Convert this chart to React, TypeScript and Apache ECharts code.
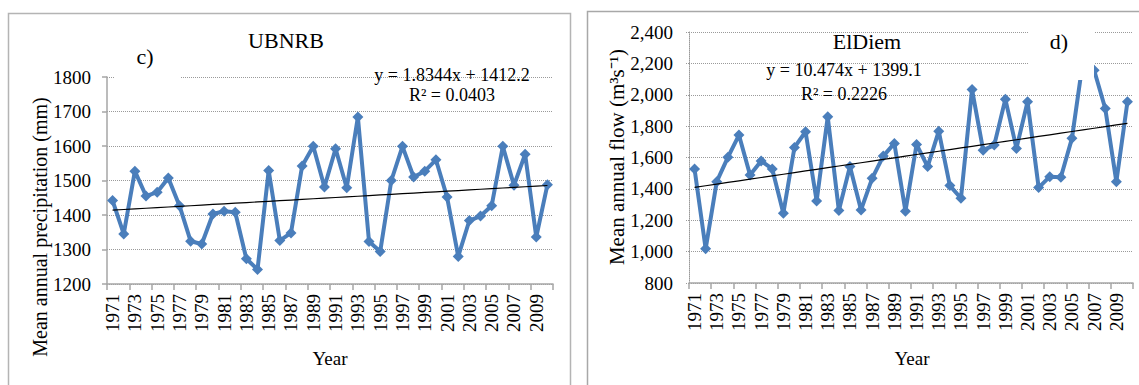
import React, { useEffect, useRef } from "react";
import * as echarts from "echarts";

const FONT = "'Liberation Serif', 'Times New Roman', serif";
const BLUE = "#4A7EBB";
const GRAY = "#a6a6a6";
const GRID_GRAY = "#9a9a9a";

// Years shown on both panels
const years = [
  "1971", "1972", "1973", "1974", "1975", "1976", "1977", "1978", "1979", "1980",
  "1981", "1982", "1983", "1984", "1985", "1986", "1987", "1988", "1989", "1990",
  "1991", "1992", "1993", "1994", "1995", "1996", "1997", "1998", "1999", "2000",
  "2001", "2002", "2003", "2004", "2005", "2006", "2007", "2008", "2009", "2010",
];

// UBNRB mean annual precipitation (mm)
const precipitation = [
  1442, 1345, 1527, 1455, 1466, 1507, 1427, 1324, 1316, 1403,
  1411, 1408, 1273, 1242, 1529, 1326, 1348, 1542, 1599, 1481,
  1592, 1479, 1684, 1323, 1294, 1500, 1599, 1510, 1527, 1560,
  1452, 1280, 1384, 1397, 1427, 1599, 1486, 1576, 1336, 1488,
];

// ElDiem mean annual flow (m3/s)
const flow = [
  1527, 1018, 1446, 1601, 1743, 1489, 1578, 1527, 1245, 1664,
  1764, 1323, 1859, 1262, 1542, 1266, 1467, 1609, 1690, 1258,
  1683, 1542, 1768, 1421, 1340, 2033, 1647, 1679, 1972, 1658,
  1955, 1408, 1478, 1474, 1722, 2220, 2156, 1912, 1446, 1955,
];

// Linear trend coefficients [slope, intercept] (x = 1 for the first year)
const precipTrend = [1.8344, 1412.2];
const flowTrend = [10.474, 1399.1];

// Axis ticks [min, max, interval]
const precipTicks = [1200, 1800, 100];
const flowTicks = [800, 2400, 200];

const trendLine = (coef: number[]) =>
  years.map((_, i) => +(coef[0] * (i + 1) + coef[1]).toFixed(2));

const xAxisFor = (gridIndex: number) => ({
  type: "category",
  gridIndex,
  data: years,
  boundaryGap: true,
  axisLine: { show: true, lineStyle: { color: GRAY, width: 1.5 } },
  axisTick: {
    show: true,
    interval: 1,
    length: 6,
    lineStyle: { color: GRAY, width: 1.5 },
  },
  axisLabel: {
    interval: 1,
    rotate: 90,
    margin: 10,
    color: "#000",
    fontFamily: FONT,
    fontSize: 19,
  },
  splitLine: { show: false },
});

const dataSeries = (name: string, axis: number, data: number[]) => ({
  name,
  type: "line",
  xAxisIndex: axis,
  yAxisIndex: axis,
  data,
  symbol: "diamond",
  symbolSize: 11,
  showAllSymbol: true,
  lineStyle: { color: BLUE, width: 4 },
  itemStyle: { color: BLUE },
  z: 3,
});

const trendSeries = (name: string, axis: number, coef: number[]) => ({
  name,
  type: "line",
  xAxisIndex: axis,
  yAxisIndex: axis,
  data: trendLine(coef),
  showSymbol: false,
  symbol: "none",
  lineStyle: { color: "#000", width: 1.2 },
  z: 4,
});

const text = (
  str: string,
  x: number,
  y: number,
  fontSize: number,
  extra: Record<string, unknown> = {}
) => ({
  type: "text",
  x,
  y,
  z: 101,
  ...extra,
  style: {
    text: str,
    fontFamily: FONT,
    fontSize,
    fill: "#000",
    align: "center",
    verticalAlign: "middle",
  },
});

export default function App() {
  const ref = useRef<HTMLDivElement>(null);

  useEffect(() => {
    if (!ref.current) return;
    const chart = echarts.init(ref.current, null, { renderer: "svg" });

    const option = {
      animation: false,
      textStyle: { fontFamily: FONT },
      grid: [
        { left: 107, top: 77, width: 446, height: 207, outerBoundsMode: "none" },
        { left: 689, top: 32, width: 444, height: 251, outerBoundsMode: "none" },
      ],
      xAxis: [xAxisFor(0), xAxisFor(1)],
      yAxis: [
        {
          type: "value",
          gridIndex: 0,
          min: precipTicks[0],
          max: precipTicks[1],
          interval: precipTicks[2],
          axisLine: { show: true, lineStyle: { color: GRAY, width: 1.5 } },
          axisTick: { show: true, length: 5, lineStyle: { color: GRAY, width: 1.5 } },
          axisLabel: {
            margin: 16,
            color: "#000",
            fontFamily: FONT,
            fontSize: 19,
            formatter: (v: number) => String(v),
          },
          splitLine: {
            show: true,
            lineStyle: { color: GRID_GRAY, width: 1, type: "dotted" },
          },
        },
        {
          type: "value",
          gridIndex: 1,
          min: flowTicks[0],
          max: flowTicks[1],
          interval: flowTicks[2],
          axisLine: {
            show: true,
            lineStyle: { color: GRID_GRAY, width: 1, type: "dotted" },
          },
          axisTick: {
            show: true,
            length: 4,
            lineStyle: { color: GRID_GRAY, width: 1, type: "dotted" },
          },
          axisLabel: {
            margin: 16,
            color: "#000",
            fontFamily: FONT,
            fontSize: 19,
            formatter: (v: number) => v.toLocaleString("en-US"),
          },
          splitLine: {
            show: true,
            lineStyle: { color: GRID_GRAY, width: 1, type: "dotted" },
          },
        },
      ],
      series: [
        dataSeries("UBNRB", 0, precipitation),
        trendSeries("UBNRB trend", 0, precipTrend),
        dataSeries("ElDiem", 1, flow),
        trendSeries("ElDiem trend", 1, flowTrend),
      ],
      graphic: [
        // panel frames
        {
          type: "rect",
          z: 90,
          shape: { x: 8.5, y: 13.5, width: 562, height: 400 },
          style: { fill: "none", stroke: "#b4b4b4", lineWidth: 1.5 },
        },
        {
          type: "rect",
          z: 90,
          shape: { x: 587.5, y: 11.5, width: 600, height: 400 },
          style: { fill: "none", stroke: "#a8a8a8", lineWidth: 1.5 },
        },
        // white boxes behind the panel tags
        {
          type: "rect",
          z: 100,
          shape: { x: 115, y: 40, width: 65, height: 40 },
          style: { fill: "#fff" },
        },
        {
          type: "rect",
          z: 100,
          shape: { x: 1028, y: 20, width: 66, height: 60 },
          style: { fill: "#fff" },
        },
        text("c)", 145, 56, 22),
        text("d)", 1059, 41, 22),
        // titles
        text("UBNRB", 286, 40, 22),
        text("ElDiem", 867, 41, 22),
        // trend equations
        text("y = 1.8344x + 1412.2", 452, 75, 18),
        text("R² = 0.0403", 452, 95, 18),
        text("y = 10.474x + 1399.1", 844, 70, 18),
        text("R² = 0.2226", 844, 94, 18),
        // axis names
        text("Mean annual precipitation (mm)", 40, 227, 20, { rotation: Math.PI / 2 }),
        text("Mean annual flow (m³s⁻¹)", 617, 157, 21, { rotation: Math.PI / 2 }),
        text("Year", 330, 358, 19),
        text("Year", 912, 358, 19),
      ],
    };

    chart.setOption(option as any);
    return () => chart.dispose();
  }, []);

  return (
    <div
      ref={ref}
      style={{ position: "fixed", left: 0, top: 0, width: 1139, height: 385, background: "#fff" }}
    />
  );
}
